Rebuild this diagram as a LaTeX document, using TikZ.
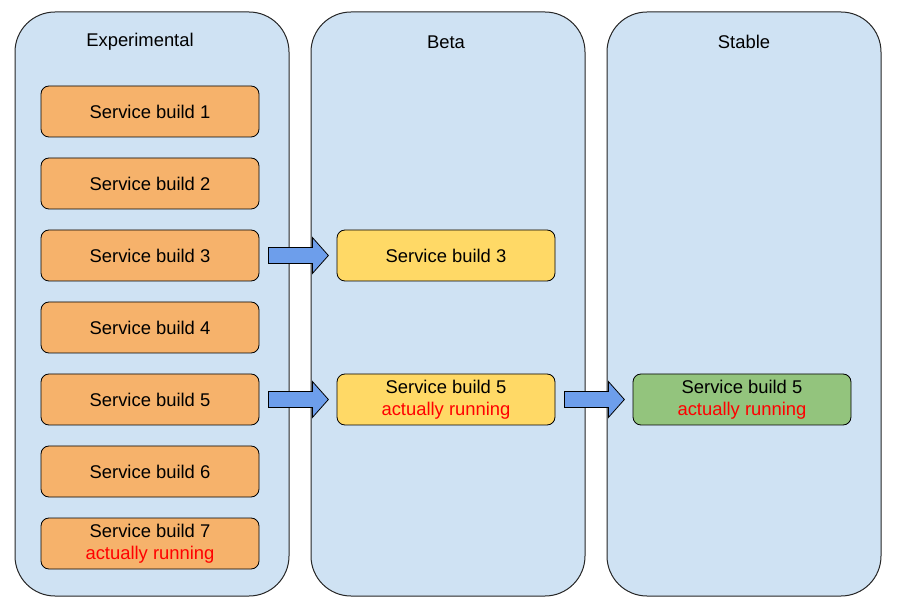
\documentclass[tikz,border=0pt]{standalone}
\usepackage{fontspec}
\setmainfont{Liberation Sans}
\usetikzlibrary{calc}
\definecolor{colbg}{HTML}{CFE2F3}
\definecolor{orangebox}{HTML}{F6B26B}
\definecolor{yellowbox}{HTML}{FFD966}
\definecolor{greenbox}{HTML}{93C47D}
\definecolor{arrowblue}{HTML}{6D9EEB}
\definecolor{runred}{HTML}{FF0000}
\begin{document}
\begin{tikzpicture}[x=1pt,y=-1pt,
  column/.style={draw=black!85, line width=1pt, fill=colbg, rounded corners=40pt,
    minimum width=274pt, minimum height=584pt, inner sep=0pt},
  buildbox/.style={draw=black, line width=0.8pt, rounded corners=8pt,
    minimum width=218pt, minimum height=51pt, inner sep=0pt, align=center,
    font=\fontsize{18.4}{22}\selectfont},
  expbox/.style={buildbox, fill=orangebox},
  betabox/.style={buildbox, fill=yellowbox},
  stablebox/.style={buildbox, fill=greenbox},
  title/.style={font=\fontsize{18.4}{22}\selectfont, inner sep=0pt},
  promote/.style={draw=black, line width=0.8pt, fill=arrowblue},
  run/.style={text=runred}
]
\useasboundingbox (0,0) rectangle (900,609);
\fill[white] (0,0) rectangle (900,609);

\node[column] (cexp) at (152,304) {};
\node[column] (cbeta) at (448,304) {};
\node[column] (cstable) at (744,304) {};

\node[title] (texp) at (140,42) {Experimental};
\node[title] (tbeta) at (446,42) {Beta};
\node[title] (tstable) at (744,42) {Stable};

\node[expbox] (e1) at (150,111.5) {Service build 1};
\node[expbox] (e2) at (150,183.5) {Service build 2};
\node[expbox] (e3) at (150,255.5) {Service build 3};
\node[expbox] (e4) at (150,327.5) {Service build 4};
\node[expbox] (e5) at (150,399.5) {Service build 5};
\node[expbox] (e6) at (150,471.5) {Service build 6};
\node[expbox] (e7) at (150,543.5) {Service build 7\\\textcolor{runred}{actually running}};

\node[betabox] (b3) at (446,255.5) {Service build 3};
\node[betabox] (b5) at (446,399.5) {Service build 5\\\textcolor{runred}{actually running}};

\node[stablebox] (s5) at (742,399.5) {Service build 5\\\textcolor{runred}{actually running}};

\draw[promote] ($(e3.east)+(9,-8)$) -- ++(44,0) -- ++(0,-10) -- ++(16,18) -- ++(-16,18) -- ++(0,-10) -- ++(-44,0) -- cycle;
\draw[promote] ($(e5.east)+(9,-8)$) -- ++(44,0) -- ++(0,-10) -- ++(16,18) -- ++(-16,18) -- ++(0,-10) -- ++(-44,0) -- cycle;
\draw[promote] ($(b5.east)+(9,-8)$) -- ++(44,0) -- ++(0,-10) -- ++(16,18) -- ++(-16,18) -- ++(0,-10) -- ++(-44,0) -- cycle;
\end{tikzpicture}
\end{document}
